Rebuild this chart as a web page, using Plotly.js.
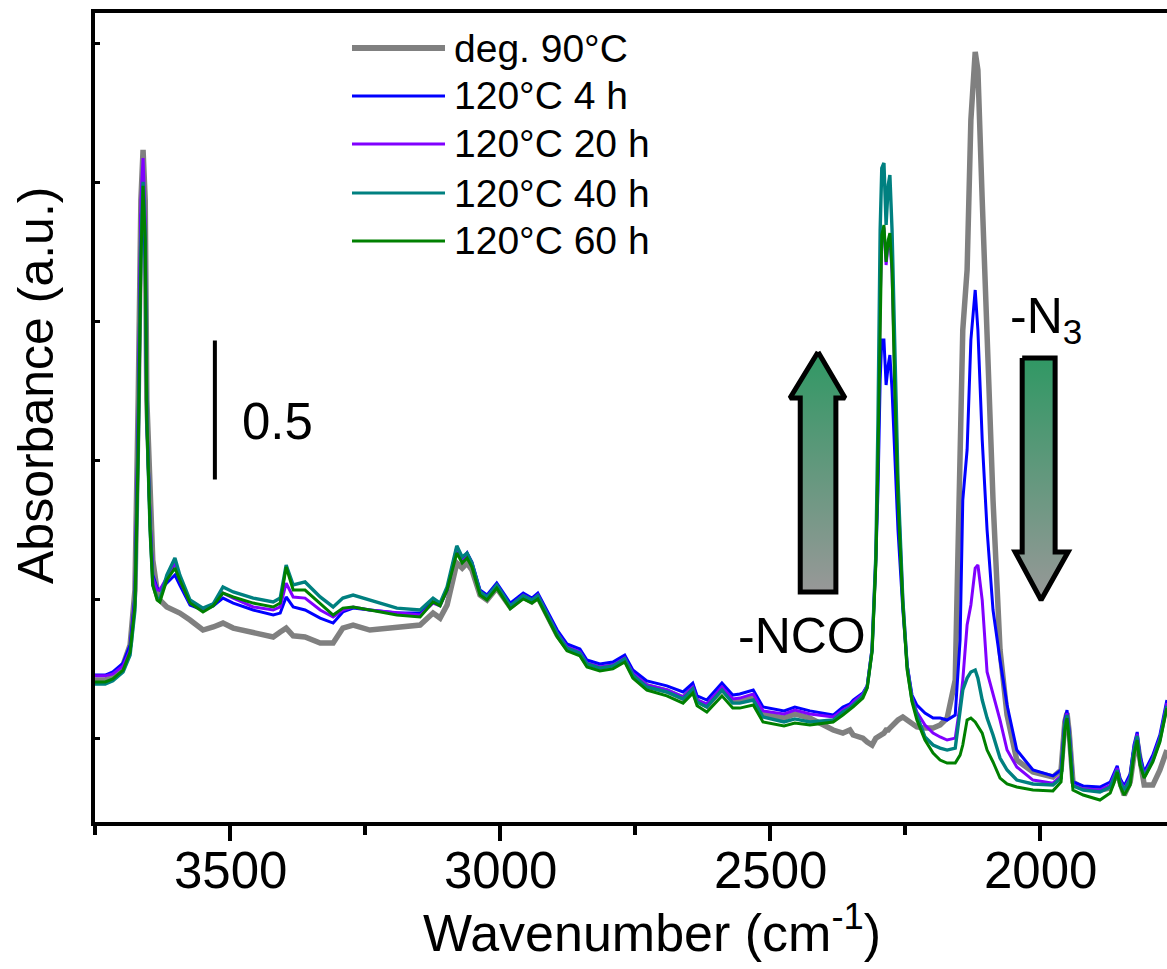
<!DOCTYPE html>
<html>
<head>
<meta charset="utf-8">
<script src="https://cdn.plot.ly/plotly-3.0.1.min.js"></script>
<style>
html,body{margin:0;padding:0;overflow:hidden;background:#ffffff;width:1167px;height:969px}
#chart{width:1210px;height:969px}
</style>
</head>
<body>
<div id="chart"></div>
<script>
// Wavenumber (cm-1)
const wavenumber = [3750,3731,3717,3698,3685,3676,3670,3665,3661,3657,
 3654,3648,3643,3635,3630,3617,3602,3593,3574,3550,
 3531,3513,3494,3457,3420,3407,3396,3383,3361,3333,
 3309,3291,3272,3241,3191,3148,3124,3111,3098,3080,
 3070,3061,3052,3037,3024,3006,2981,2957,2941,2930,
 2913,2894,2876,2852,2839,2815,2791,2769,2754,2728,
 2691,2661,2643,2635,2617,2589,2569,2556,2531,2513,
 2474,2454,2426,2383,2365,2352,2346,2328,2320,2311,
 2304,2300,2296,2293,2289,2285,2281,2278,2274,2269,
 2263,2254,2246,2237,2228,2213,2198,2185,2172,2157,
 2148,2143,2135,2128,2120,2115,2107,2098,2087,2074,
 2061,2043,2013,1976,1961,1954,1950,1946,1939,1920,
 1889,1870,1863,1857,1852,1844,1833,1826,1820,1815,
 1807,1791,1778,1765];

const deg90 = [0.511,0.511,0.522,0.565,0.637,0.835,1.519,2.239,2.419,2.239,
 1.519,1.159,0.943,0.835,0.799,0.774,0.763,0.752,0.727,0.691,
 0.702,0.716,0.698,0.680,0.666,0.684,0.698,0.670,0.666,0.644,
 0.644,0.698,0.709,0.691,0.698,0.709,0.752,0.734,0.781,0.932,
 0.914,0.932,0.907,0.817,0.799,0.842,0.774,0.810,0.792,0.810,
 0.745,0.673,0.626,0.608,0.569,0.554,0.562,0.587,0.533,0.490,
 0.472,0.446,0.482,0.436,0.418,0.479,0.436,0.436,0.450,0.389,
 0.374,0.389,0.374,0.331,0.320,0.331,0.313,0.302,0.288,0.277,
 0.302,0.306,0.310,0.313,0.320,0.331,0.331,0.338,0.346,0.360,
 0.367,0.378,0.367,0.353,0.342,0.338,0.338,0.349,0.374,0.511,
 1.231,1.771,1.987,2.527,2.772,2.707,2.239,1.771,1.159,0.619,
 0.385,0.223,0.180,0.162,0.187,0.360,0.392,0.324,0.144,0.122,
 0.115,0.122,0.151,0.180,0.144,0.097,0.144,0.241,0.288,0.223,
 0.133,0.133,0.187,0.259];

const h4 = [0.529,0.529,0.540,0.572,0.637,0.817,1.447,2.185,2.221,2.023,
 1.447,1.087,0.889,0.842,0.835,0.860,0.889,0.853,0.781,0.763,
 0.778,0.806,0.788,0.763,0.745,0.752,0.810,0.774,0.763,0.734,
 0.716,0.756,0.770,0.763,0.752,0.752,0.792,0.781,0.835,0.986,
 0.943,0.968,0.936,0.835,0.817,0.860,0.788,0.824,0.806,0.824,
 0.763,0.691,0.641,0.623,0.583,0.569,0.576,0.601,0.547,0.508,
 0.490,0.468,0.500,0.454,0.439,0.500,0.457,0.461,0.475,0.414,
 0.400,0.414,0.400,0.385,0.414,0.425,0.439,0.464,0.490,0.619,
 0.943,1.195,1.591,1.735,1.735,1.573,1.645,1.681,1.555,1.303,
 1.051,0.763,0.565,0.457,0.421,0.392,0.374,0.374,0.367,0.385,
 0.655,1.159,1.339,1.735,1.915,1.771,1.375,1.051,0.763,0.583,
 0.421,0.259,0.187,0.166,0.187,0.367,0.403,0.331,0.144,0.130,
 0.126,0.144,0.173,0.202,0.158,0.130,0.173,0.277,0.324,0.241,
 0.180,0.241,0.313,0.439];

const h20 = [0.526,0.526,0.533,0.562,0.619,0.799,1.411,2.239,2.390,2.167,
 1.447,1.087,0.878,0.835,0.835,0.878,0.932,0.871,0.788,0.763,
 0.785,0.824,0.806,0.774,0.763,0.774,0.860,0.810,0.806,0.763,
 0.738,0.763,0.774,0.763,0.752,0.745,0.788,0.778,0.835,0.990,
 0.943,0.968,0.932,0.828,0.810,0.853,0.778,0.817,0.799,0.817,
 0.752,0.680,0.630,0.612,0.572,0.558,0.565,0.590,0.536,0.493,
 0.475,0.450,0.486,0.439,0.425,0.486,0.443,0.446,0.461,0.400,
 0.389,0.403,0.389,0.378,0.403,0.418,0.432,0.461,0.490,0.626,
 0.961,1.300,1.870,2.100,2.140,2.005,2.085,2.110,1.975,1.591,
 1.195,0.799,0.565,0.446,0.396,0.349,0.320,0.306,0.295,0.302,
 0.421,0.511,0.709,0.781,0.914,0.925,0.799,0.540,0.464,0.367,
 0.259,0.198,0.151,0.140,0.166,0.360,0.392,0.320,0.133,0.119,
 0.115,0.133,0.166,0.194,0.151,0.119,0.162,0.266,0.317,0.230,
 0.169,0.230,0.302,0.428];

const h40 = [0.497,0.497,0.508,0.540,0.601,0.763,1.339,2.059,2.304,2.095,
 1.447,1.051,0.853,0.806,0.799,0.889,0.950,0.889,0.799,0.770,
 0.785,0.846,0.828,0.806,0.792,0.806,0.925,0.853,0.864,0.810,
 0.774,0.806,0.817,0.799,0.770,0.763,0.806,0.788,0.846,0.994,
 0.954,0.968,0.932,0.828,0.810,0.853,0.778,0.814,0.799,0.814,
 0.749,0.677,0.626,0.608,0.569,0.554,0.562,0.587,0.529,0.486,
 0.468,0.443,0.479,0.432,0.414,0.475,0.428,0.428,0.439,0.378,
 0.360,0.371,0.360,0.367,0.396,0.410,0.421,0.454,0.486,0.619,
 0.961,1.447,2.131,2.354,2.372,2.149,2.293,2.329,2.131,1.663,
 1.231,0.799,0.558,0.439,0.385,0.306,0.277,0.266,0.259,0.266,
 0.396,0.475,0.518,0.540,0.547,0.518,0.439,0.374,0.313,0.230,
 0.187,0.151,0.137,0.133,0.158,0.353,0.385,0.313,0.130,0.115,
 0.108,0.126,0.158,0.187,0.144,0.115,0.155,0.259,0.310,0.223,
 0.162,0.223,0.295,0.418];

const h60 = [0.504,0.504,0.515,0.547,0.612,0.781,1.339,2.023,2.290,2.095,
 1.447,1.051,0.853,0.799,0.792,0.871,0.914,0.871,0.788,0.756,
 0.778,0.824,0.810,0.788,0.774,0.788,0.918,0.835,0.835,0.788,
 0.745,0.770,0.774,0.763,0.745,0.738,0.792,0.778,0.835,0.968,
 0.932,0.950,0.918,0.817,0.799,0.842,0.767,0.803,0.788,0.803,
 0.738,0.666,0.616,0.598,0.558,0.544,0.551,0.576,0.518,0.475,
 0.454,0.428,0.464,0.418,0.396,0.454,0.410,0.410,0.421,0.360,
 0.346,0.356,0.349,0.360,0.385,0.403,0.414,0.446,0.482,0.612,
 0.925,1.303,1.879,2.113,2.149,2.016,2.095,2.120,1.987,1.555,
 1.159,0.781,0.547,0.432,0.367,0.295,0.248,0.223,0.212,0.212,
 0.241,0.277,0.367,0.374,0.360,0.346,0.320,0.259,0.216,0.158,
 0.137,0.126,0.115,0.112,0.144,0.331,0.374,0.295,0.115,0.097,
 0.079,0.104,0.140,0.180,0.130,0.097,0.133,0.241,0.295,0.205,
 0.158,0.216,0.288,0.410];

const seriesNames  = ["deg. 90°C", "120°C 4 h", "120°C 20 h", "120°C 40 h", "120°C 60 h"];
const seriesValues = [deg90, h4, h20, h40, h60];
const seriesColors = ["#808080", "#0000ff", "#8000ff", "#008080", "#008000"];
const seriesWidths = [5.5, 3, 3, 3.4, 3];

const xTickValues = [3500, 3000, 2500, 2000];
const xTickLabels = ["3500", "3000", "2500", "2000"];
const scaleBarValue = 0.5;

// geometry helpers (pixel -> paper), plot area 95..1202 x 13..822
const L = 95, T = 13, W = 1107, H = 809;
const px = v => (v - L) / W;
const py = v => (822 - v) / H;
const FONT = "Arial, 'Liberation Sans', sans-serif";

const traces = seriesValues.map((vals, i) => ({
  type: "scatter", mode: "lines", name: seriesNames[i],
  x: wavenumber, y: vals,
  line: {color: seriesColors[i], width: seriesWidths[i]},
  showlegend: false, hoverinfo: "skip"
}));

// gradient arrows (decoration), in data coordinates
function arrowTrace(xs, ys, yBottom, yTop) {
  return {
    type: "scatter", mode: "lines", x: xs, y: ys, fill: "toself",
    fillgradient: {type: "vertical", start: yBottom, stop: yTop,
      colorscale: [[0, "rgb(152,152,152)"], [1, "rgb(48,152,100)"]]},
    line: {color: "#000", width: 5}, showlegend: false, hoverinfo: "skip"
  };
}
traces.push(arrowTrace(
  [2411, 2361, 2378, 2378, 2444, 2444, 2463, 2411],
  [1.692, 1.526, 1.526, 0.828, 0.828, 1.526, 1.526, 1.692], 0.828, 1.692));
traces.push(arrowTrace(
  [2033, 1972, 1972, 1948, 1998, 2046, 2033, 2033],
  [1.670, 1.670, 0.972, 0.972, 0.799, 0.972, 0.972, 1.670], 0.799, 1.670));

const shapes = [];
const annotations = [];
// scale bar
shapes.push({type: "line", xref: "x", yref: "y", x0: 3528, x1: 3528,
  y0: 1.233, y1: 1.233 + scaleBarValue, line: {color: "#000", width: 4}});
annotations.push({xref: "paper", yref: "paper", x: px(240), y: py(421),
  xanchor: "left", yanchor: "middle", showarrow: false,
  text: String(scaleBarValue), font: {family: FONT, size: 51, color: "#000"}});
annotations.push({xref: "paper", yref: "paper", x: px(802), y: py(636),
  xanchor: "center", yanchor: "middle", showarrow: false,
  text: "-NCO", font: {family: FONT, size: 50, color: "#000"}});
annotations.push({xref: "paper", yref: "paper", x: px(1008), y: py(319),
  xanchor: "left", yanchor: "middle", showarrow: false,
  text: "-N<sub>3</sub>", font: {family: FONT, size: 50, color: "#000"}});
// axis titles
annotations.push({xref: "paper", yref: "paper", x: px(36), y: py(386),
  xanchor: "center", yanchor: "middle", showarrow: false, textangle: -90,
  text: "Absorbance (a.u.)", font: {family: FONT, size: 50, color: "#000"}});
annotations.push({xref: "paper", yref: "paper", x: px(652), y: py(929),
  xanchor: "center", yanchor: "middle", showarrow: false,
  text: "Wavenumber (cm<sup>-1</sup>)", font: {family: FONT, size: 52, color: "#000"}});
// x tick labels placed at their tick values
xTickValues.forEach((v, i) => {
  annotations.push({xref: "x", yref: "paper", x: v, y: py(870),
    xanchor: "center", yanchor: "middle", showarrow: false,
    text: xTickLabels[i], font: {family: FONT, size: 51, color: "#000"}});
});

// manual legend
const legendY = [48, 96, 144, 193, 241];
seriesNames.forEach((nm, i) => {
  shapes.push({type: "line", xref: "paper", yref: "paper",
    x0: px(352), x1: px(445), y0: py(legendY[i]), y1: py(legendY[i]),
    line: {color: seriesColors[i], width: i === 0 ? 6 : 3}});
  annotations.push({xref: "paper", yref: "paper", x: px(452), y: py(legendY[i]),
    xanchor: "left", yanchor: "middle", showarrow: false, text: nm,
    font: {family: FONT, size: 39, color: "#000"}});
});

const layout = {
  width: 1210, height: 969,
  margin: {l: L, r: 1210 - L - W, t: T, b: 969 - T - H},
  paper_bgcolor: "#fff", plot_bgcolor: "#fff",
  font: {family: FONT, color: "#000"},
  xaxis: {
    range: [3750, 1700], tickmode: "array", tickvals: xTickValues,
    showticklabels: false,
    ticks: "outside", ticklen: 15, tickwidth: 4, tickcolor: "#000",
    minor: {tickmode: "linear", tick0: 0, dtick: 250, ticks: "outside", ticklen: 9, tickwidth: 4, tickcolor: "#000", showgrid: false},
    showline: true, linewidth: 4, linecolor: "#000", mirror: true,
    showgrid: false, zeroline: false,
    automargin: false
  },
  yaxis: {
    range: [0, 2.912], tickmode: "linear", tick0: 0.302, dtick: 0.5,
    ticks: "inside", ticklen: 5, tickwidth: 3, tickcolor: "#000",
    showticklabels: false,
    showline: true, linewidth: 4, linecolor: "#000", mirror: true,
    showgrid: false, zeroline: false,
    automargin: false
  },
  shapes: shapes, annotations: annotations, showlegend: false
};

Plotly.newPlot("chart", traces, layout, {staticPlot: true, displayModeBar: false});
</script>
</body>
</html>
